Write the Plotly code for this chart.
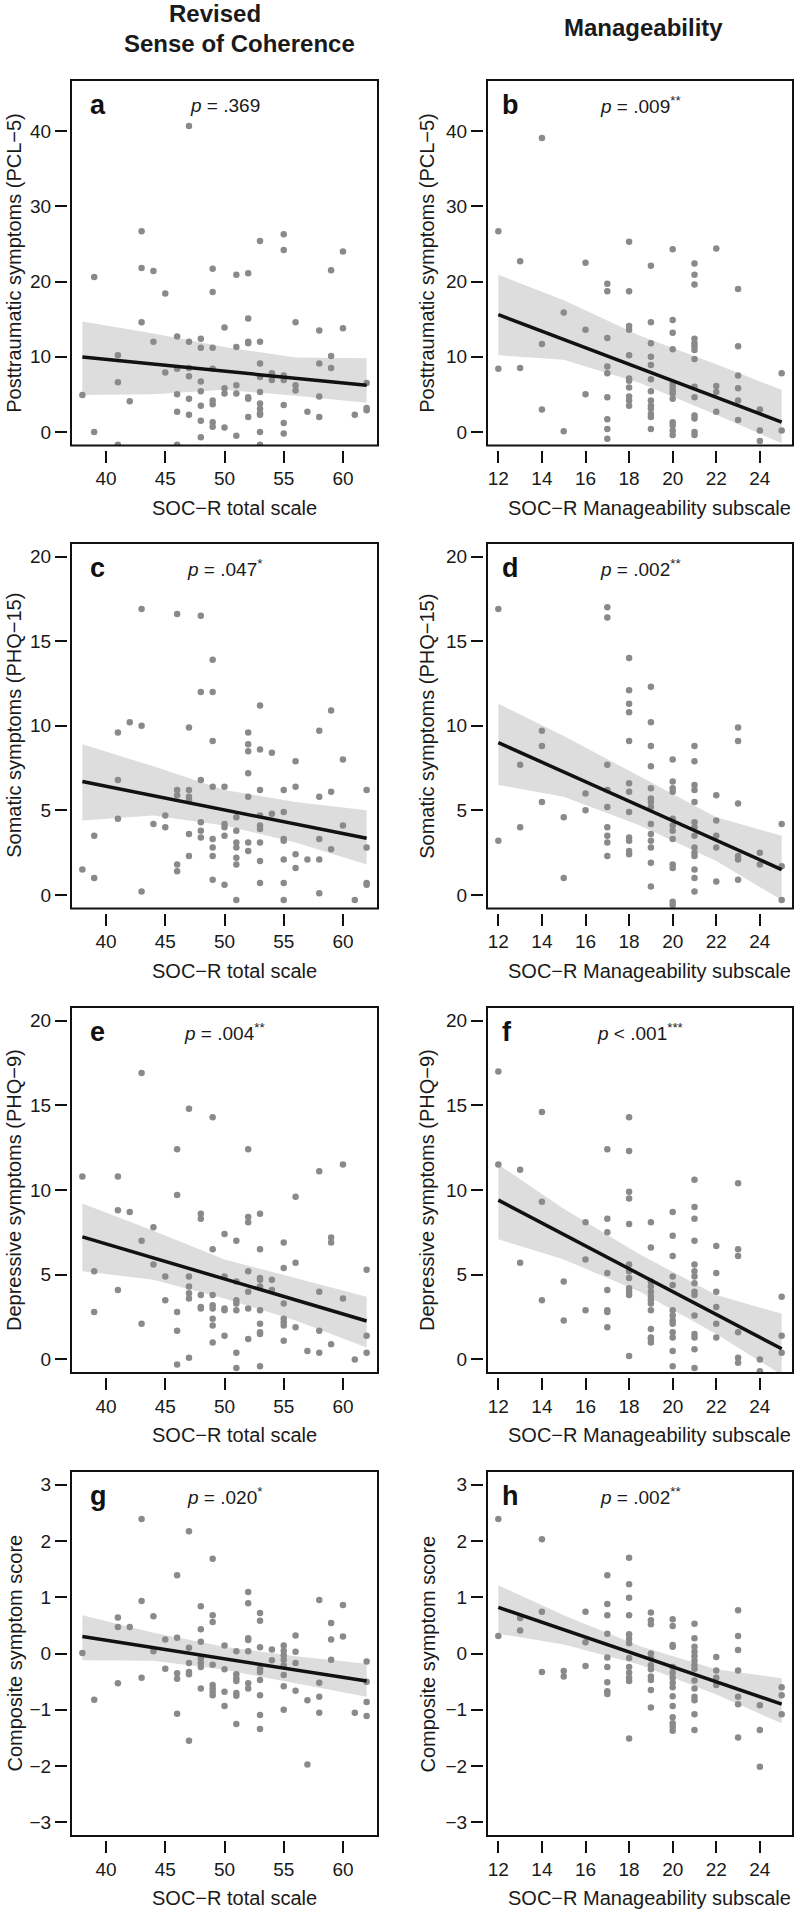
import plotly.graph_objects as go

# ---- data ----
tot_ticks = [40, 45, 50, 55, 60]
man_ticks = [12, 14, 16, 18, 20, 22, 24]
pcl_ticks = [0, 10, 20, 30, 40]
phq_ticks = [0, 5, 10, 15, 20]
comp_ticks = [-3, -2, -1, 0, 1, 2, 3]

tot_fit_x = [38, 62]
man_fit_x = [12, 25]
tot_band_x = [38, 44, 50, 56, 62]
man_band_x = [12, 15, 18.5, 22, 25]

# a: PCL-5 vs SOC-R total
a_x = [47,43,55,53,55,60,39,43,44,49, 51,52,59,45,49,52,43,50,56,58, 60,46,44,47,48,48,49,51,52,52,
       53,41,59,59,58,53,45,46,47,49, 54,54,55,55,53,47,48,41,51,50, 50,51,52,52,53,56,56,62,48,38,
       46,47,58,42,49,49,48,53,53,53, 53,55,62,62,57,46,47,52,58,61, 48,49,49,50,55,39,53,55,48,51,
       41,46,53]
a_y = [40.7,26.7,26.3,25.4,24.2,24.0,20.6,21.8,21.4,21.7, 20.9,21.1,21.5,18.4,18.6,15.1,14.6,13.9,14.6,13.5,
       13.8,12.7,12.0,12.0,12.4,11.2,11.2,11.3,12.0,11.8, 12.0,10.2,10.1,8.5,9.1,9.1,7.9,8.4,8.5,8.4,
       7.8,6.9,7.5,6.9,7.3,7.4,6.7,6.6,6.2,5.8, 5.1,5.1,4.6,4.4,5.3,6.2,5.5,6.5,5.4,4.9,
       5.0,4.4,4.7,4.1,4.2,3.7,3.5,3.8,3.1,2.5, 2.3,3.6,3.2,2.9,2.7,2.7,2.3,2.0,2.0,2.3,
       1.5,1.3,0.7,0.6,1.2,0.0,0.0,-0.2,-0.7,-0.5, -1.7,-1.7,-1.7]
a_fit_y = [9.96, 6.2]
a_hi = [14.7, 13.1, 11.3, 9.9, 9.8]
a_lo = [4.9, 5.0, 5.6, 4.8, 3.9]

# b: PCL-5 vs manageability
b_x = [14,12,13,16,18,20,22,19,21,21, 21,17,17,18,23,15,19,20,18,18, 16,20,17,21,21,21,21,21,14,19,
       20,23,18,19,19,12,13,17,17,25, 23,18,18,19,20,20,20,20,20,21, 22,22,23,23,18,18,18,18,19,19,
       19,19,19,19,16,17,21,14,22,24, 17,17,17,15,19,20,20,20,20,21, 21,21,21,23,24,25,24]
b_y = [39.1,26.7,22.7,22.5,25.3,24.3,24.4,22.1,22.4,20.9, 19.6,19.7,18.7,18.7,19.0,15.9,14.6,14.9,14.1,13.6,
       13.6,13.2,12.5,12.4,11.8,11.4,10.9,9.7,11.7,11.8, 11.0,11.4,10.2,10.0,8.9,8.4,8.5,8.7,7.8,7.8,
       7.5,7.1,6.8,7.0,6.4,6.0,5.5,5.1,4.4,6.0, 6.1,5.3,5.8,4.2,5.9,4.7,4.2,3.5,5.4,4.2,
       3.5,3.1,2.4,2.0,5.0,4.6,4.6,3.0,2.7,3.0, 1.7,0.4,-0.9,0.1,0.4,1.3,0.9,0.2,-0.4,2.2,
       1.8,0.0,-0.4,1.6,0.2,0.2,-1.2]
b_fit_y = [15.6, 1.3]
b_hi = [20.9, 17.5, 12.8, 9.0, 5.6]
b_lo = [10.2, 9.6, 6.5, 2.3, -1.5]

# c: PHQ-15 vs SOC-R total
c_x = [43,46,48,49,48,49,53,59,42,43, 41,47,52,58,49,52,52,53,54,60, 56,52,41,48,49,50,56,46,47,53,
       55,59,62,46,47,47,52,58,55,54, 45,53,51,41,44,48,50,50,53,53, 60,45,48,51,39,47,48,50,49,55,
       55,58,51,52,53,51,49,62,52,59, 56,47,49,51,57,58,53,55,51,46, 56,38,46,39,49,50,53,55,62,62,
       43,58,51,55,61]
c_y = [16.9,16.6,16.5,13.9,12.0,12.0,11.2,10.9,10.2,10.0, 9.6,9.9,9.6,9.7,9.1,8.9,8.5,8.6,8.4,8.0,
       7.9,7.2,6.8,6.8,6.4,6.4,6.4,6.2,6.2,6.2, 6.2,6.1,6.2,5.9,5.8,5.6,5.8,5.8,4.9,4.8,
       4.7,4.7,4.6,4.5,4.2,4.3,4.2,4.0,4.1,3.9, 4.1,4.0,3.8,3.8,3.5,3.6,3.4,3.5,3.3,3.3,
       3.2,3.3,3.1,3.1,3.1,2.8,2.8,2.8,2.6,2.7, 2.4,2.3,2.3,2.2,2.1,2.1,2.0,2.1,1.8,1.8,
       1.6,1.5,1.4,1.0,0.9,0.6,0.7,0.7,0.7,0.6, 0.2,0.1,-0.3,-0.3,-0.3]
c_fit_y = [6.7, 3.35]
c_hi = [8.9, 7.6, 6.2, 5.5, 5.0]
c_lo = [4.4, 4.7, 4.1, 3.1, 1.8]

# d: PHQ-15 vs manageability
d_x = [12,12,17,17,18,18,18,18,18,18, 18,18,18,18,18,18,19,19,19,19, 19,19,19,19,19,19,19,19,19,19,
       14,14,14,13,13,15,15,16,16,17, 17,17,17,17,17,17,20,20,20,20, 20,20,20,20,20,20,20,20,21,21,
       21,21,21,21,21,21,21,21,21,21, 21,21,22,22,22,22,22,23,23,23, 23,23,23,24,24,25,25,25]
d_y = [16.9,3.2,17.0,16.4,14.0,12.1,11.3,10.8,9.1,6.6, 6.1,4.9,3.4,3.2,2.6,2.4,12.3,10.2,8.8,7.6,
       6.3,5.7,5.5,5.2,4.2,3.6,3.2,2.8,1.9,0.5, 9.7,8.8,5.5,7.7,4.0,4.6,1.0,6.0,5.0,7.7,
       6.2,5.2,4.0,3.5,3.1,2.3,8.0,6.7,6.3,6.1, 4.5,4.1,3.8,3.3,1.8,1.6,-0.4,-0.6,8.8,7.9,
       6.5,6.2,5.5,4.3,4.0,3.5,2.8,2.5,2.3,1.5, 1.0,0.2,5.9,4.4,3.5,2.8,0.8,9.9,9.1,5.4,
       2.3,2.1,0.9,2.5,1.8,4.2,1.7,-0.3]
d_fit_y = [9.0, 1.5]
d_hi = [11.3, 9.4, 7.0, 4.6, 3.5]
d_lo = [6.5, 5.8, 4.1, 2.0, -0.3]

# e: PHQ-9 vs SOC-R total
e_x = [43,47,49,46,52,60,58,38,41,46, 56,41,42,48,48,52,52,53,44,50, 43,51,55,59,59,49,53,56,44,55,
       52,62,39,45,47,50,53,53,54,47, 51,52,53,54,58,41,48,49,47,47, 60,45,51,51,55,49,48,48,49,50,
       50,51,52,53,39,46,49,55,55,49, 53,55,56,43,46,58,53,53,50,62, 52,55,49,59,57,58,62,51,47,61,
       46,51,53]
e_y = [16.9,14.8,14.3,12.4,12.4,11.5,11.1,10.8,10.8,9.7, 9.6,8.8,8.7,8.6,8.3,8.4,8.1,8.6,7.8,7.4,
       7.0,7.0,6.9,7.2,6.9,6.5,6.5,5.7,5.6,5.4, 5.2,5.3,5.2,4.9,4.9,4.9,4.8,4.7,4.7,4.3,
       4.6,4.0,4.3,4.1,4.0,4.1,3.8,3.8,3.9,3.6, 3.6,3.5,3.5,3.3,3.3,3.2,3.1,3.0,3.0,3.0,
       2.9,2.9,3.0,2.9,2.8,2.8,2.4,2.4,2.2,2.0, 2.1,2.0,1.9,2.1,1.7,1.7,1.6,1.5,1.4,1.4,
       1.2,1.1,1.0,0.9,0.5,0.4,0.4,0.4,0.1,0.0, -0.3,-0.5,-0.4]
e_fit_y = [7.23, 2.27]
e_hi = [9.2, 7.6, 5.9, 4.8, 3.7]
e_lo = [5.2, 4.7, 3.6, 2.3, 0.7]

# f: PHQ-9 vs manageability
f_x = [12,12,13,13,14,14,14,15,15,16, 16,16,17,17,17,17,17,17,17,17, 18,18,18,18,18,18,18,18,18,18,
       18,18,19,19,19,19,19,19,19,19, 19,19,19,19,19,20,20,20,20,20, 20,20,20,20,20,20,20,20,21,21,
       21,21,21,21,21,21,21,21,21,21, 21,21,21,22,22,22,22,22,22,23, 23,23,23,23,23,24,24,25,25,25]
f_y = [17.0,11.5,11.2,5.7,14.6,9.3,3.5,4.6,2.3,8.1, 5.9,2.9,12.4,8.3,7.5,5.1,4.1,2.9,2.8,1.9,
       14.3,12.3,9.9,9.5,8.0,5.6,5.2,4.8,4.2,4.0, 3.8,0.2,8.1,6.6,4.6,4.3,4.0,3.7,3.5,3.3,
       2.9,1.8,1.3,1.2,1.0,8.7,7.3,6.1,4.9,4.4, 2.9,2.6,2.3,2.1,1.6,1.3,0.5,-0.4,10.6,9.0,
       8.3,7.0,5.6,5.2,4.9,4.5,4.0,3.8,2.6,1.5, 1.3,0.6,-0.5,6.7,5.1,4.0,3.1,2.1,1.3,10.4,
       6.5,6.1,1.6,0.1,-0.2,0.0,-0.7,3.7,1.4,0.4]
f_fit_y = [9.4, 0.63]
f_hi = [11.5, 8.9, 6.2, 3.8, 2.7]
f_lo = [7.1, 5.9, 4.0, 1.5, -0.9]

# g: composite vs SOC-R total
g_x = [43,47,49,46,52,43,58,60,48,52, 49,53,41,44,49,53,59,41,42,48, 56,60,46,45,52,52,59,48,50,55,
       47,53,38,44,51,52,54,55,56,55, 48,55,54,59,47,48,49,56,62,55, 48,45,50,53,53,47,47,46,51,55,
       46,51,43,51,53,62,52,41,58,49, 55,49,48,52,56,50,49,51,49,51, 53,58,39,57,62,50,55,58,61,46,
       53,62,51,53,47,57]
g_y = [2.39,2.17,1.68,1.39,1.09,0.93,0.95,0.86,0.84,0.89, 0.68,0.72,0.64,0.66,0.56,0.58,0.54,0.47,0.47,0.43,
       0.32,0.30,0.28,0.25,0.27,0.24,0.25,0.21,0.14,0.14, 0.10,0.11,0.01,0.04,0.04,0.04,0.07,0.05,0.03,-0.03,
       -0.09,-0.11,-0.12,-0.11,-0.17,-0.17,-0.20,-0.17,-0.14,-0.21, -0.24,-0.27,-0.28,-0.27,-0.33,-0.33,-0.37,-0.35,-0.37,-0.38,
       -0.45,-0.44,-0.43,-0.49,-0.47,-0.50,-0.53,-0.53,-0.52,-0.56, -0.58,-0.62,-0.62,-0.62,-0.66,-0.68,-0.68,-0.70,-0.74,-0.75,
       -0.74,-0.77,-0.82,-0.83,-0.86,-0.93,-1.00,-1.05,-1.05,-1.07, -1.09,-1.11,-1.25,-1.34,-1.55,-1.97]
g_fit_y = [0.30, -0.49]
g_hi = [0.68, 0.37, 0.12, -0.05, -0.18]
g_lo = [-0.12, -0.13, -0.29, -0.53, -0.77]

# h: composite vs manageability
h_x = [12,12,14,14,14,13,13,15,15,16, 16,16,17,17,17,17,17,17,17,17, 17,18,18,18,18,18,18,18,18,18,
       18,18,18,18,19,19,19,19,19,19, 19,19,19,19,19,20,20,20,20,20, 20,20,20,20,20,20,20,20,20,20,
       21,21,21,21,21,21,21,21,21,21, 21,21,21,21,22,22,22,22,23,23, 23,23,23,23,23,24,24,24,25,25,
       25]
h_y = [2.39,0.31,2.03,0.74,-0.33,0.63,0.41,-0.31,-0.41,0.74, 0.20,-0.22,1.39,0.88,0.68,0.35,-0.07,-0.24,-0.51,-0.67,
       -0.72,1.70,1.23,0.99,0.68,0.34,0.26,0.18,-0.08,-0.24, -0.34,-0.43,-0.49,-1.51,0.73,0.59,0.52,0.0,-0.09,-0.21,
       -0.28,-0.41,-0.47,-0.65,-0.96,0.61,0.49,0.15,0.12,-0.24, -0.34,-0.43,-0.52,-0.60,-0.76,-0.93,-1.13,-1.24,-1.30,-1.37,
       0.53,0.27,0.12,0.03,-0.05,-0.13,-0.21,-0.27,-0.48,-0.62, -0.77,-0.83,-1.08,-1.36,-0.06,-0.30,-0.43,-0.56,0.77,0.31,
       0.06,-0.30,-0.77,-0.90,-1.49,-0.92,-1.36,-2.01,-0.60,-0.74, -1.08]
h_fit_y = [0.82, -0.90]
h_hi = [1.21, 0.68, 0.13, -0.28, -0.44]
h_lo = [0.35, 0.16, -0.20, -0.73, -1.24]

p_labels = ["<i>p</i> = .369", "<i>p</i> = .009<sup>**</sup>",
            "<i>p</i> = .047<sup>*</sup>", "<i>p</i> = .002<sup>**</sup>",
            "<i>p</i> = .004<sup>**</sup>", "<i>p</i> < .001<sup>***</sup>",
            "<i>p</i> = .020<sup>*</sup>", "<i>p</i> = .002<sup>**</sup>"]
y_titles = ["Posttraumatic symptoms (PCL\u22125)", "Somatic symptoms (PHQ\u221215)",
            "Depressive symptoms (PHQ\u22129)", "Composite symptom score"]
x_titles = ["SOC\u2212R total scale", "SOC\u2212R Manageability subscale"]

# ---- layout ----
W, H = 800, 1910
FONT = "Liberation Sans, Arial, Helvetica, sans-serif"
cols = [(71, 378), (487, 793)]
rows = [(80, 445.5), (543, 908.5), (1007, 1373), (1471, 1836)]
y_ranges = [[-1.8, 46.8], [-0.8, 20.8], [-0.8, 20.8], [-3.24, 3.24]]
y_ticks = [pcl_ticks, phq_ticks, phq_ticks, comp_ticks]

panels = [
    ("a", a_x, a_y, a_fit_y, a_hi, a_lo),
    ("b", b_x, b_y, b_fit_y, b_hi, b_lo),
    ("c", c_x, c_y, c_fit_y, c_hi, c_lo),
    ("d", d_x, d_y, d_fit_y, d_hi, d_lo),
    ("e", e_x, e_y, e_fit_y, e_hi, e_lo),
    ("f", f_x, f_y, f_fit_y, f_hi, f_lo),
    ("g", g_x, g_y, g_fit_y, g_hi, g_lo),
    ("h", h_x, h_y, h_fit_y, h_hi, h_lo),
]

fig = go.Figure()
layout = {}
annotations = []
shapes = []

for i, (letter, px, py, fit_y, hi, lo) in enumerate(panels):
    n = i + 1
    r, c = divmod(i, 2)
    sfx = "" if n == 1 else str(n)
    xa, ya = "x" + sfx, "y" + sfx
    x0, x1 = cols[c]
    y0, y1 = rows[r]
    if c == 0:
        xr, xt, fx, bx = [37.04, 62.96], tot_ticks, tot_fit_x, tot_band_x
    else:
        xr, xt, fx, bx = [11.48, 25.52], man_ticks, man_fit_x, man_band_x

    fig.add_trace(go.Scatter(x=bx + bx[::-1], y=hi + lo[::-1], fill="toself",
                             fillcolor="#dddddd", line=dict(width=0), mode="lines",
                             xaxis=xa, yaxis=ya, hoverinfo="skip", showlegend=False))
    fig.add_trace(go.Scatter(x=px, y=py, mode="markers",
                             marker=dict(size=6.5, color="#8a8a8a"),
                             xaxis=xa, yaxis=ya, showlegend=False))
    fig.add_trace(go.Scatter(x=fx, y=fit_y, mode="lines",
                             line=dict(color="#111111", width=3.5),
                             xaxis=xa, yaxis=ya, showlegend=False))

    axis_common = dict(showgrid=False, zeroline=False, showline=False, ticks="outside",
                       ticklen=12, tickwidth=1.6, tickcolor="#111111",
                       tickfont=dict(family=FONT, size=19, color="#1a1a1a"))
    layout["xaxis" + sfx] = dict(axis_common, domain=[x0 / W, x1 / W], range=xr,
                                 tickvals=xt, anchor="free", position=1 - (y1 + 4) / H)
    layout["yaxis" + sfx] = dict(axis_common, domain=[1 - y1 / H, 1 - y0 / H],
                                 range=y_ranges[r], tickvals=y_ticks[r],
                                 anchor="free", position=(x0 - 4) / W)

    shapes.append(dict(type="rect", xref=xa + " domain", yref=ya + " domain",
                       x0=0, x1=1, y0=0, y1=1, line=dict(color="#111111", width=2)))

    annotations.append(dict(text="<b>" + letter + "</b>", xref=xa + " domain", yref=ya + " domain",
                            x=(17 if c == 0 else 13) / (x1 - x0), y=1 - 25 / (y1 - y0),
                            xanchor="left", yanchor="middle", showarrow=False,
                            font=dict(family=FONT, size=27, color="#111111")))
    annotations.append(dict(text=p_labels[i], xref=xa + " domain", yref=ya + " domain",
                            x=0.5, y=1 - 25 / (y1 - y0), xanchor="center", yanchor="middle",
                            showarrow=False, font=dict(family=FONT, size=19, color="#1a1a1a")))
    annotations.append(dict(text=y_titles[r], xref="paper", yref="paper",
                            x=(14 if c == 0 else 427) / W, y=1 - (y0 + y1) / 2 / H,
                            textangle=-90, xanchor="center", yanchor="middle", showarrow=False,
                            font=dict(family=FONT, size=20, color="#1a1a1a")))
    annotations.append(dict(text=x_titles[c], xref="paper", yref="paper",
                            x=(234 if c == 0 else 649) / W, y=1 - (y1 + 62) / H,
                            xanchor="center", yanchor="middle", showarrow=False,
                            font=dict(family=FONT, size=20, color="#1a1a1a")))

# column headers
for text, hx, hy in [("Revised", 215, 14), ("Sense of Coherence", 239, 43), ("Manageability", 643, 28)]:
    annotations.append(dict(text="<b>" + text + "</b>", xref="paper", yref="paper",
                            x=hx / W, y=1 - hy / H, xanchor="center", yanchor="middle",
                            showarrow=False, font=dict(family=FONT, size=24, color="#1a1a1a")))

fig.update_layout(width=W, height=H, margin=dict(l=0, r=0, t=0, b=0),
                  paper_bgcolor="white", plot_bgcolor="white",
                  annotations=annotations, shapes=shapes, **layout)

# drop the default page margin so the 800x1910 figure fills the window exactly
fig.write_html("out.html", config={"displayModeBar": False},
               post_script="document.body.style.margin='0';document.body.style.overflow='hidden';")
